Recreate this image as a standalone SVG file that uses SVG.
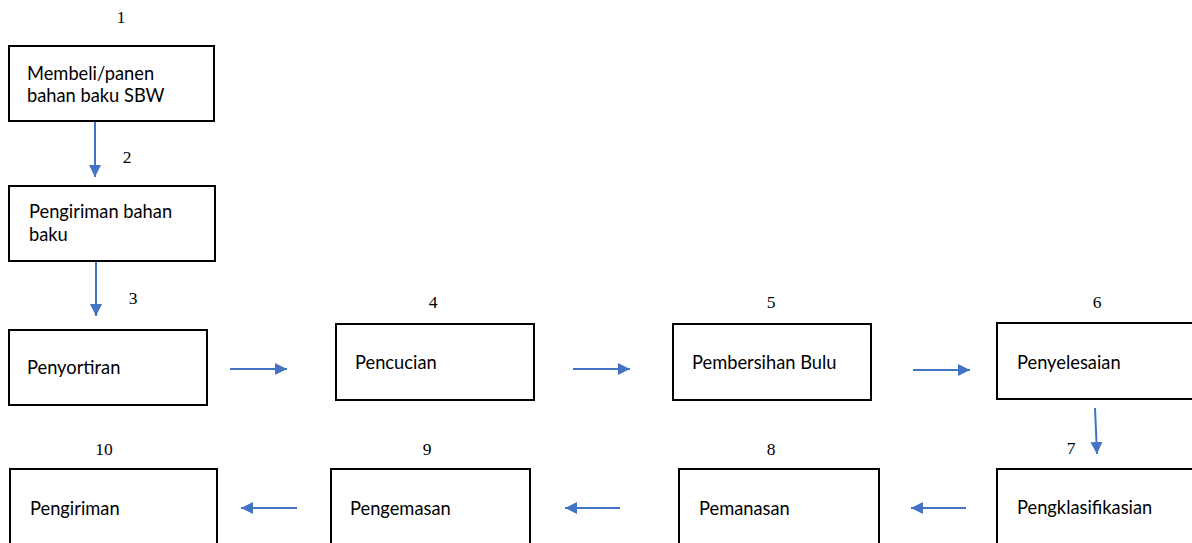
<svg xmlns="http://www.w3.org/2000/svg" width="1192" height="543" viewBox="0 0 1192 543">
<style>
.box{fill:#fff;stroke:#000;stroke-width:2}
.t{font-family:Lato,"Noto Sans",sans-serif;font-size:18.3px;fill:#000}
.n{font-family:"Liberation Serif",serif;font-size:17.5px;fill:#000;text-anchor:middle}
.c{stroke:#4472C4;stroke-width:2;fill:none;marker-end:url(#ah)}
</style>
<defs>
<marker id="ah" viewBox="0 0 12 12" refX="12" refY="6" markerWidth="12" markerHeight="12" markerUnits="userSpaceOnUse" orient="auto">
<path d="M0,0 L12,6 L0,12 Z" fill="#4472C4"/>
</marker>
</defs>
<rect width="1192" height="543" fill="#fff"/>
<g id="connectors">
<line class="c" x1="95" y1="122" x2="95" y2="177"/>
<line class="c" x1="96" y1="262" x2="96" y2="316"/>
<line class="c" x1="230" y1="369" x2="287" y2="369"/>
<line class="c" x1="573" y1="369" x2="630" y2="369"/>
<line class="c" x1="913" y1="370" x2="970" y2="370"/>
<line class="c" x1="1095" y1="408" x2="1097" y2="454"/>
<line class="c" x1="966" y1="508" x2="911" y2="508"/>
<line class="c" x1="620" y1="508" x2="565" y2="508"/>
<line class="c" x1="297" y1="508" x2="241" y2="508"/>
</g>
<g id="node1">
<text class="n" x="121" y="23">1</text>
<rect class="box" x="9" y="46" width="205" height="75"/>
<text class="t" x="27" y="80">Membeli/panen</text>
<text class="t" x="27" y="102">bahan baku SBW</text>
</g>
<g id="node2">
<text class="n" x="127" y="163">2</text>
<rect class="box" x="9" y="186" width="206" height="75"/>
<text class="t" x="29" y="218">Pengiriman bahan</text>
<text class="t" x="29" y="241">baku</text>
</g>
<g id="node3">
<text class="n" x="133" y="304">3</text>
<rect class="box" x="9" y="330" width="198" height="75"/>
<text class="t" x="27" y="374">Penyortiran</text>
</g>
<g id="node4">
<text class="n" x="433" y="308">4</text>
<rect class="box" x="336" y="324" width="198" height="76"/>
<text class="t" x="355" y="369">Pencucian</text>
</g>
<g id="node5">
<text class="n" x="771" y="308">5</text>
<rect class="box" x="673" y="324" width="198" height="76"/>
<text class="t" x="692" y="369">Pembersihan Bulu</text>
</g>
<g id="node6">
<text class="n" x="1097" y="308">6</text>
<rect class="box" x="997" y="323" width="200" height="76"/>
<text class="t" x="1017" y="369">Penyelesaian</text>
</g>
<g id="node7">
<text class="n" x="1071" y="454">7</text>
<rect class="box" x="997" y="469" width="200" height="80"/>
<text class="t" x="1017" y="514">Pengklasifikasian</text>
</g>
<g id="node8">
<text class="n" x="771" y="455">8</text>
<rect class="box" x="679" y="469" width="200" height="80"/>
<text class="t" x="699" y="515">Pemanasan</text>
</g>
<g id="node9">
<text class="n" x="427" y="455">9</text>
<rect class="box" x="331" y="469" width="199" height="80"/>
<text class="t" x="350" y="515">Pengemasan</text>
</g>
<g id="node10">
<text class="n" x="104" y="455">10</text>
<rect class="box" x="10" y="469" width="207" height="80"/>
<text class="t" x="30" y="515">Pengiriman</text>
</g>
</svg>
